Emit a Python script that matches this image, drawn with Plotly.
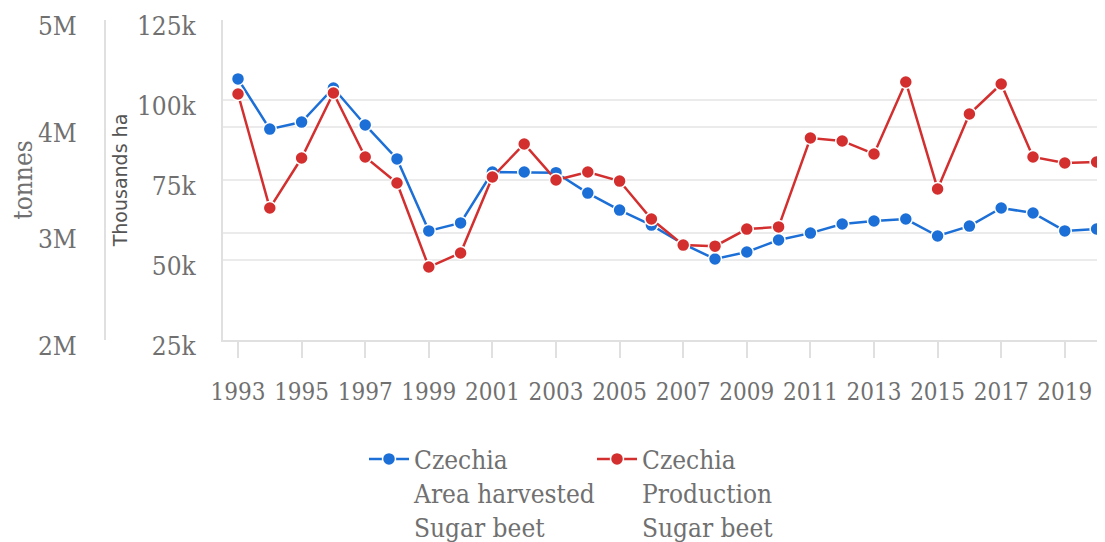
import plotly.graph_objects as go

years = list(range(1993, 2021))
area_harvested_ha = [106600, 90900, 93100, 103750, 92200, 81600, 59100, 61600, 77500, 77500,
                     77300, 70900, 65600, 60900, 55000, 50300, 52500, 56250, 58400, 61250,
                     62200, 62800, 57500, 60600, 66250, 64700, 59100, 59700]
production_t = [4306000, 3237000, 3706000, 4316000, 3716000, 3472000, 2684000, 2816000, 3528000, 3838000,
                3500000, 3575000, 3490000, 3134000, 2890000, 2880000, 3040000, 3060000, 3894000, 3866000,
                3744000, 4419000, 3416000, 4119000, 4400000, 3716000, 3659000, 3669000]
area_name = "Czechia<br>Area harvested<br>Sugar beet"
prod_name = "Czechia<br>Production<br>Sugar beet"
area_ticks = [25000, 50000, 75000, 100000, 125000]
prod_ticks = [2000000, 3000000, 4000000, 5000000]

BLUE = "#1c6fd6"
RED = "#d32f2f"
SERIF = "DejaVu Serif Condensed, DejaVu Serif, serif"
GRID = "#ebebeb"
LINE = "#e0e0e0"
TXT = "#707070"

OFF = 8  # page body margin
W, H = 1105, 550
plot_left = 223 - OFF
plot_top = 12.4
plot_bottom = 332
plot_h = plot_bottom - plot_top
x0_px = 238 - OFF        # where 1993 sits
px_per_year = 31.8
legend_top = 427.4

fig = go.Figure()
fig.add_trace(go.Scatter(
    x=years, y=area_harvested_ha, name=area_name, yaxis="y", mode="lines+markers",
    line=dict(color=BLUE, width=2.5), cliponaxis=False,
    marker=dict(color=BLUE, size=13, line=dict(color="white", width=1.5)),
))
fig.add_trace(go.Scatter(
    x=years, y=production_t, name=prod_name, yaxis="y2", mode="lines+markers",
    line=dict(color=RED, width=2.5), cliponaxis=False,
    marker=dict(color=RED, size=13, line=dict(color="white", width=1.5)),
))

x_start = 1993 - (x0_px - plot_left) / px_per_year
x_end = 1993 + (W - x0_px) / px_per_year

fig.update_layout(
    width=W, height=H,
    margin=dict(l=0, r=0, t=plot_top, b=H - plot_bottom),
    paper_bgcolor="white", plot_bgcolor="white",
    showlegend=True,
    xaxis=dict(
        domain=[plot_left / W, 1], range=[x_start, x_end],
        tickmode="linear", tick0=1993, dtick=2, tickangle=0,
        showgrid=False, zeroline=False,
        showline=True, linecolor=LINE, linewidth=2,
        ticks="outside", ticklen=16, tickwidth=2, tickcolor=LINE,
        tickfont=dict(family=SERIF, size=24, color=TXT),
        ticklabelstandoff=13, automargin=False,
    ),
    yaxis=dict(
        range=[25000, 125000], tickvals=area_ticks, tickformat="~s",
        showgrid=True, gridcolor=GRID, gridwidth=2, zeroline=False,
        showline=True, linecolor=LINE, linewidth=2,
        ticks="", ticklabelstandoff=20, ticklabelshift=6,
        tickfont=dict(family=SERIF, size=26, color=TXT),
        title=dict(text="Thousands ha", font=dict(family="DejaVu Sans", size=19, color="#555555"), standoff=4),
        automargin=False,
    ),
    yaxis2=dict(
        overlaying="y", anchor="free", position=(105 - OFF) / W, side="left",
        range=[2000000, 5000000], tickvals=prod_ticks, tickformat="~s",
        showgrid=True, gridcolor=GRID, gridwidth=2, zeroline=False,
        showline=True, linecolor=LINE, linewidth=2,
        ticks="", ticklabelstandoff=22, ticklabelshift=6,
        tickfont=dict(family=SERIF, size=26, color=TXT),
        title=dict(text="tonnes", font=dict(family=SERIF, size=26, color=TXT), standoff=19),
        automargin=False,
    ),
    legend=dict(
        orientation="h", x=(364 - OFF) / W, y=-(legend_top - plot_bottom) / plot_h,
        xanchor="left", yanchor="top", valign="top",
        font=dict(family=SERIF, size=26, color=TXT),
        entrywidth=173, entrywidthmode="pixels", itemwidth=40,
        bgcolor="rgba(0,0,0,0)",
    ),
)

fig.write_html("out.html", config={"displayModeBar": False})
